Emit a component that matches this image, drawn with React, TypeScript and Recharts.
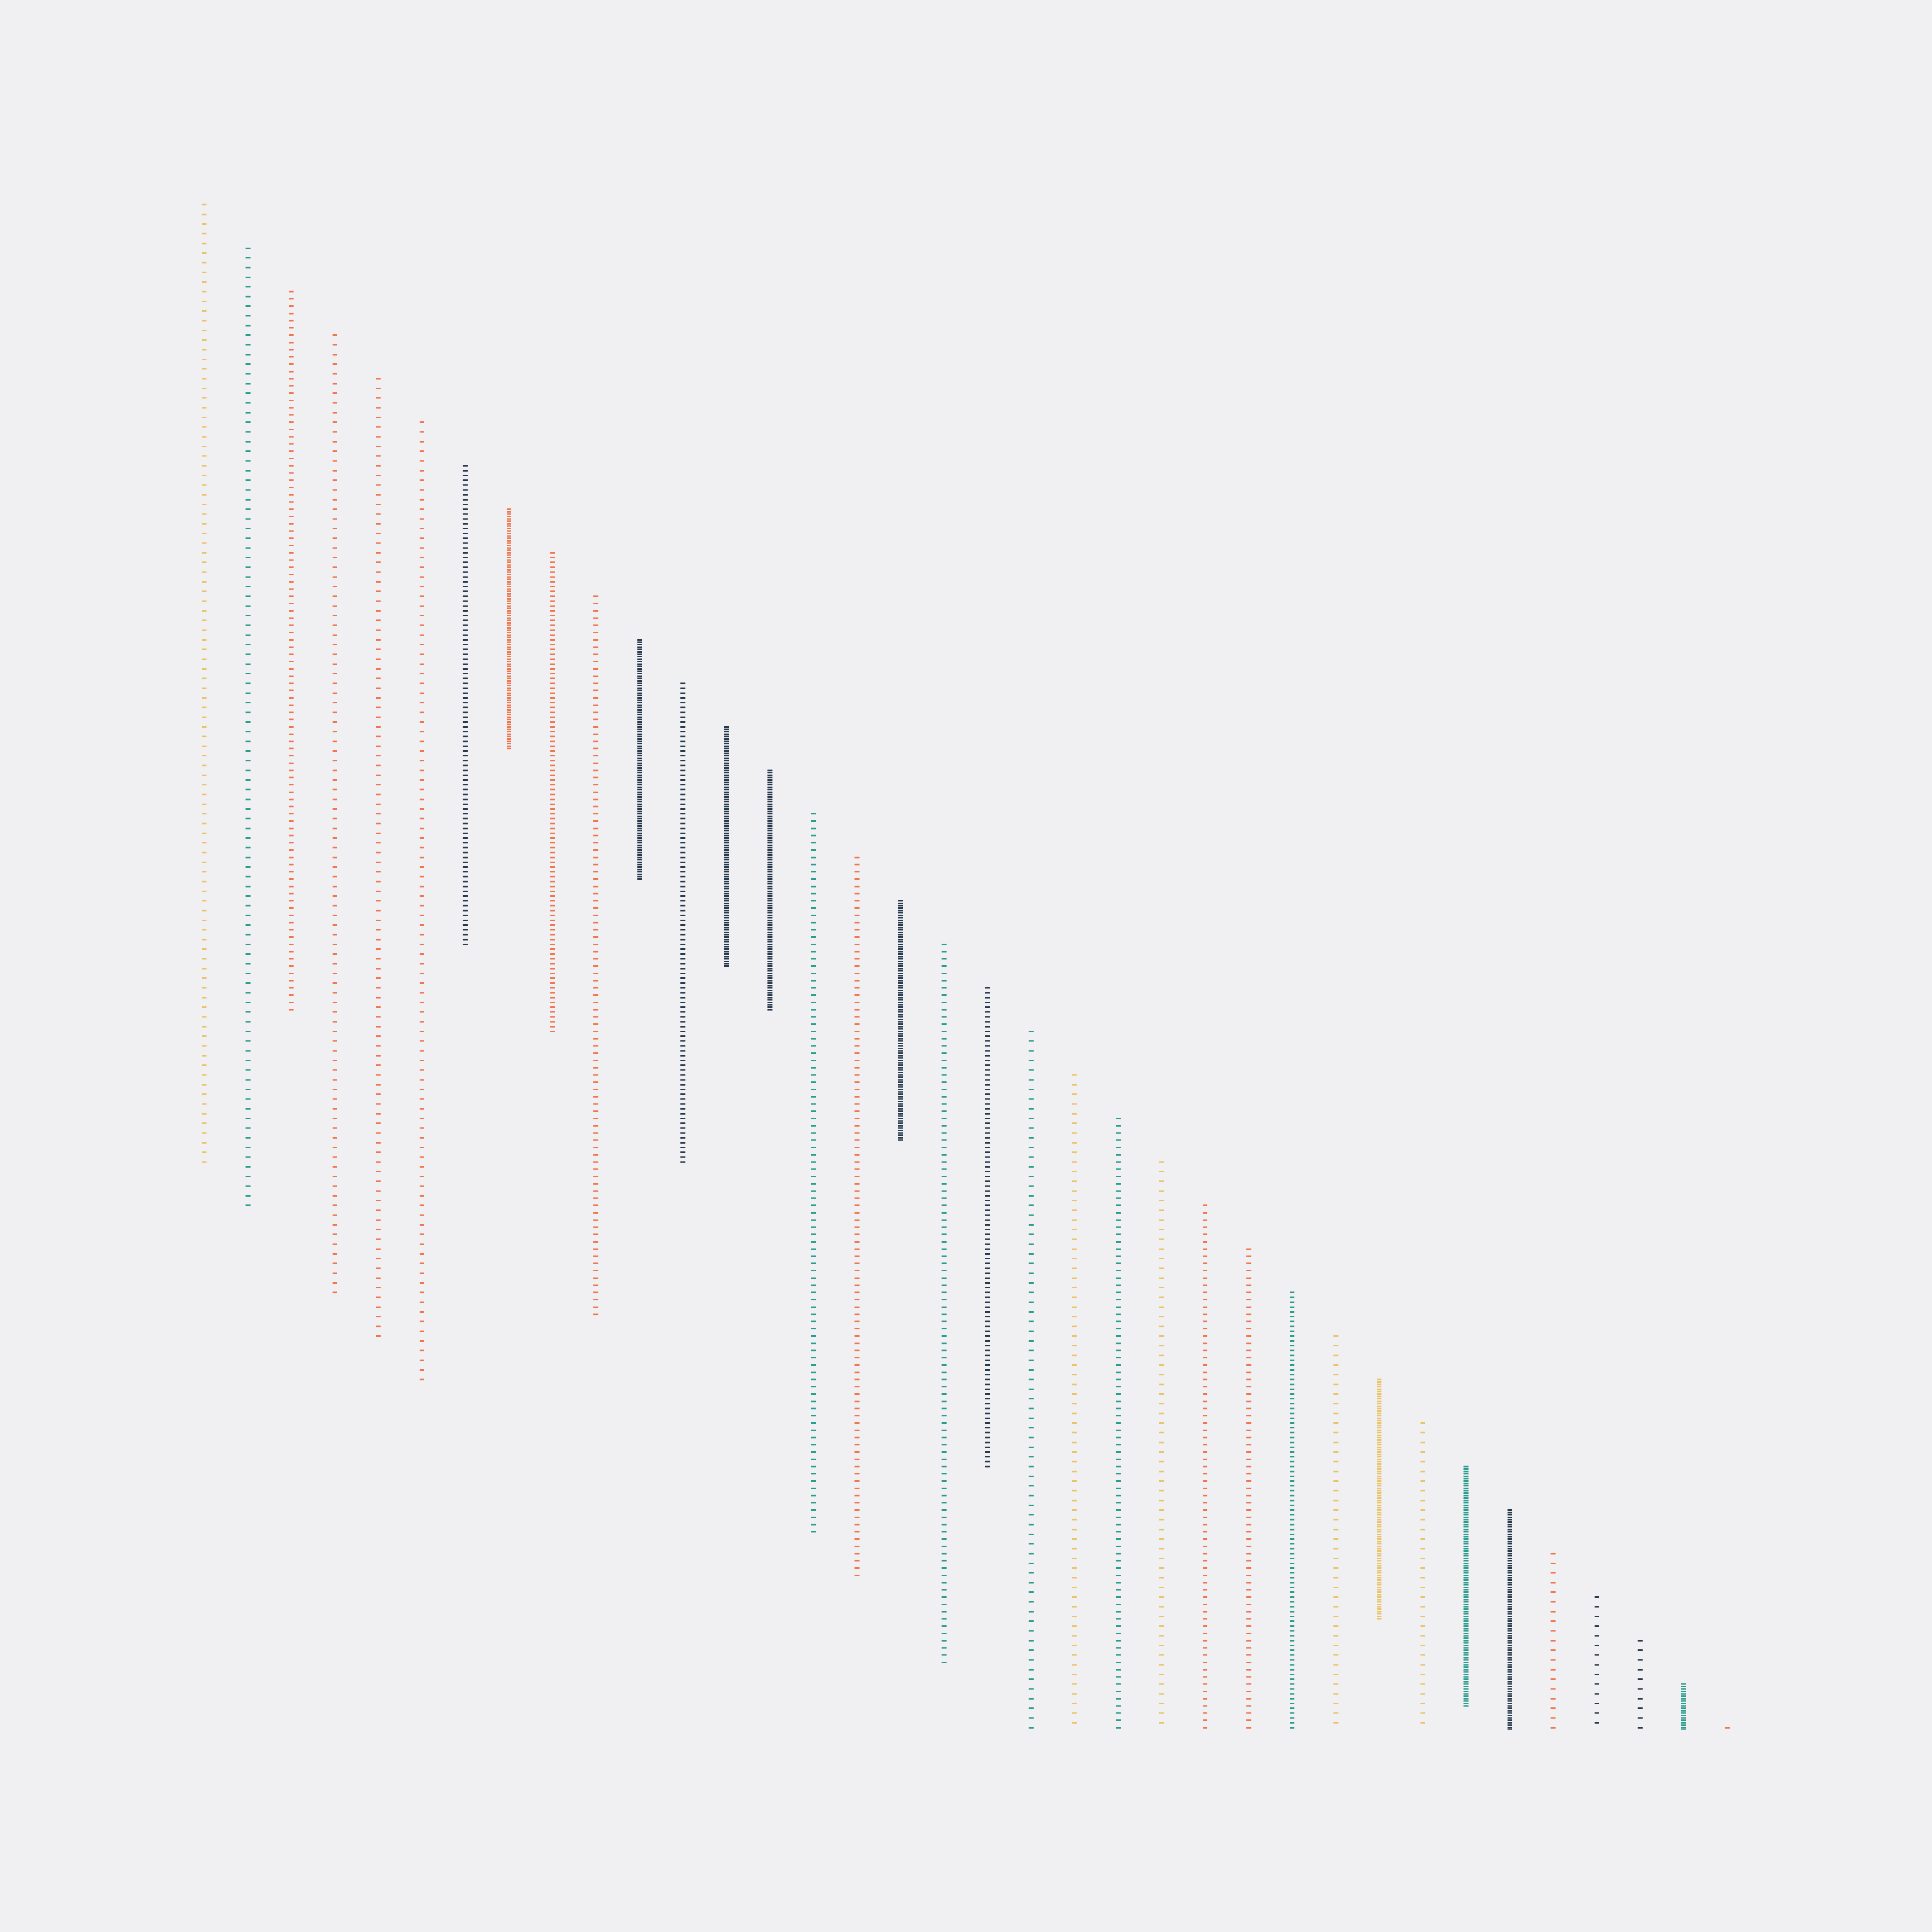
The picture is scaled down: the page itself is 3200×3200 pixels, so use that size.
import React, { useLayoutEffect } from "react";
import { BarChart, Bar, XAxis, YAxis } from "recharts";

const BG = "#f0eff2";
const YELLOW = "#e9c46a";
const TEAL = "#2a9d8f";
const ORANGE = "#f07650";
const DARK = "#283a4d";

const columnNames = [
  "c0", "c1", "c2", "c3", "c4", "c5", "c6", "c7", "c8", "c9",
  "c10", "c11", "c12", "c13", "c14", "c15", "c16", "c17", "c18", "c19",
  "c20", "c21", "c22", "c23", "c24", "c25", "c26", "c27", "c28", "c29",
  "c30", "c31", "c32", "c33", "c34", "c35",
];
const columnStarts = [
  0, 1, 2, 3, 4, 5, 6, 7, 8, 9,
  10, 11, 12, 13, 14, 15, 16, 17, 18, 19,
  20, 21, 22, 23, 24, 25, 26, 27, 28, 29,
  30, 31, 32, 33, 34, 35,
];
const columnLengths = [
  22, 22, 16.5, 22, 22, 22, 11, 5.5, 11, 16.5,
  5.5, 11, 5.5, 5.5, 16.5, 16.5, 5.5, 16.5, 11, 22,
  22, 16.5, 22, 16.5, 16.5, 11, 22, 5.5, 22, 5.5,
  5.5, 22, 22, 22, 5.5, 22,
];
const columnColors = [
  YELLOW, TEAL, ORANGE, ORANGE, ORANGE, ORANGE, DARK, ORANGE, ORANGE, ORANGE,
  DARK, DARK, DARK, DARK, TEAL, ORANGE, DARK, TEAL, DARK, TEAL,
  YELLOW, TEAL, YELLOW, ORANGE, ORANGE, TEAL, YELLOW, YELLOW, YELLOW, TEAL,
  DARK, ORANGE, DARK, DARK, TEAL, ORANGE,
];
const DASHES_PER_COLUMN = 100;

const data = columnNames.map((name, i) => ({
  name,
  range: [columnStarts[i], columnStarts[i] + columnLengths[i]],
  color: columnColors[i],
}));

const DashColumn = (props: any) => {
  const { x, y, width, height, payload } = props;
  if (x == null || y == null) return null;
  const top = Math.min(y, y + height);
  const h = Math.abs(height);
  const step = h / (DASHES_PER_COLUMN - 1);
  const dashes = [];
  for (let k = 0; k < DASHES_PER_COLUMN; k++) {
    dashes.push(
      <rect
        key={k}
        x={x}
        y={top + k * step - 1.25}
        width={width}
        height={2.5}
        fill={payload.color}
      />
    );
  }
  return <g>{dashes}</g>;
};

export default function App() {
  useLayoutEffect(() => {
    document.body.style.margin = "0";
    document.body.style.background = BG;
    document.documentElement.style.background = BG;
  }, []);
  return (
    <div style={{ width: 3200, height: 3200, background: BG }}>
      <BarChart
        width={3200}
        height={3200}
        data={data}
        margin={{ top: 335.4, right: 303, bottom: 334.9, left: 302.5 }}
        barSize={8}
      >
        <XAxis dataKey="name" type="category" hide />
        <YAxis type="number" domain={[-0.05, 35.05]} reversed allowDataOverflow hide />
        <Bar dataKey="range" isAnimationActive={false} shape={DashColumn} />
      </BarChart>
    </div>
  );
}
